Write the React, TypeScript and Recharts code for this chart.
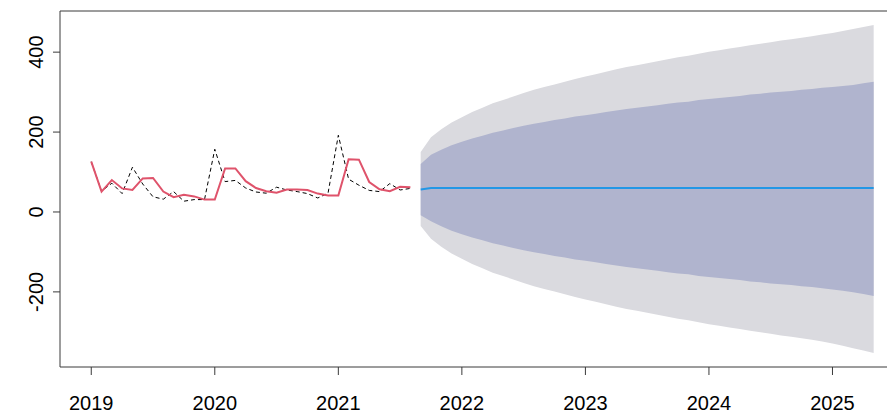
import React from "react";
import {
  ComposedChart,
  Line,
  Area,
  XAxis,
  YAxis,
  ReferenceLine,
} from "recharts";

// monthly history, Jan 2019 .. Aug 2021
const actual = [126, 52, 72, 46, 112, 70, 38, 32, 51, 27, 31, 31, 157, 76, 79, 60, 50, 47, 62, 55, 51, 46, 35, 47, 192, 82, 67, 54, 51, 71, 55, 59];
const fitted = [126, 51, 80, 59, 55, 84, 85, 51, 37, 43, 39, 31, 31, 109, 109, 77, 60, 52, 48, 56, 56, 55, 46, 41, 41, 132, 131, 75, 57, 52, 63, 62];

// forecast, Sep 2021 .. May 2025 (45 months)
const fcMean = [
  56, 60, 60, 60, 60, 60, 60, 60, 60,
  60, 60, 60, 60, 60, 60, 60, 60, 60,
  60, 60, 60, 60, 60, 60, 60, 60, 60,
  60, 60, 60, 60, 60, 60, 60, 60, 60,
  60, 60, 60, 60, 60, 60, 60, 60, 60,
];
const hi80 = [
  120, 143, 156, 167, 176, 184, 191, 198, 204,
  210, 216, 221, 225, 230, 234, 239, 242, 246,
  250, 254, 258, 261, 264, 267, 271, 274, 276,
  280, 283, 285, 288, 290, 294, 296, 299, 301,
  303, 306, 308, 311, 313, 315, 318, 322, 326,
];
const lo80 = [
  -8, -23, -36, -47, -56, -64, -71, -78, -84,
  -90, -96, -101, -105, -110, -114, -119, -122, -126,
  -130, -134, -138, -141, -144, -147, -151, -154, -156,
  -160, -163, -165, -168, -170, -174, -176, -179, -181,
  -183, -186, -188, -191, -194, -197, -201, -205, -210,
];
const hi95 = [
  150, 187, 207, 224, 237, 250, 261, 272, 280,
  289, 298, 306, 313, 319, 326, 333, 339, 345,
  351, 357, 363, 367, 372, 377, 382, 387, 391,
  396, 401, 405, 409, 413, 417, 421, 425, 429,
  432, 436, 440, 444, 448, 453, 458, 463, 468,
];
const lo95 = [
  -35, -67, -87, -104, -117, -130, -141, -152, -160,
  -169, -178, -186, -193, -199, -206, -213, -219, -225,
  -231, -237, -243, -247, -252, -257, -262, -267, -271,
  -276, -281, -285, -289, -293, -297, -301, -305, -309,
  -312, -316, -320, -324, -329, -335, -341, -347, -353,
];

const xTicks = [2019, 2020, 2021, 2022, 2023, 2024, 2025];
const yTicks = [-200, 0, 200, 400];

const START = 2019;
const FC_START = 2021 + 8 / 12;

const data = [
  ...actual.map((a, i) => ({
    t: START + i / 12,
    actual: a,
    fitted: fitted[i],
  })),
  ...fcMean.map((m, i) => ({
    t: FC_START + i / 12,
    mean: m,
    band80: [lo80[i], hi80[i]],
    band95: [lo95[i], hi95[i]],
  })),
];

const font = '"Liberation Sans", Arial, sans-serif';
const frame = "#3a3a3a";

const YTick = (props: any) => {
  const { x, y, payload } = props;
  return (
    <text
      transform={`translate(${x - 2},${y}) rotate(-90)`}
      textAnchor="middle"
      fontSize={20}
      fontFamily={font}
      fill="#000"
    >
      {payload.value}
    </text>
  );
};

export default function App() {
  return (
    <div style={{ width: 887, height: 408, overflow: "hidden" }}>
      <ComposedChart
        width={900}
        height={408}
        data={data}
        margin={{ top: 3, right: 3, bottom: 0, left: 0 }}
      >
        <XAxis
          type="number"
          dataKey="t"
          domain={[2018.747, 2025.587]}
          ticks={xTicks}
          allowDataOverflow
          height={49}
          tickSize={8}
          tickMargin={21}
          stroke={frame}
          tick={{ fill: "#000", fontSize: 20, fontFamily: font }}
        />
        <YAxis
          type="number"
          domain={[-388, 503]}
          ticks={yTicks}
          allowDataOverflow
          width={52}
          tickSize={7}
          tickMargin={8}
          stroke={frame}
          tick={<YTick />}
        />
        <ReferenceLine y={503} stroke={frame} strokeWidth={1} />
        <Area
          dataKey="band95"
          stroke="none"
          fill="#dadadf"
          fillOpacity={1}
          isAnimationActive={false}
          dot={false}
          activeDot={false}
        />
        <Area
          dataKey="band80"
          stroke="none"
          fill="#b0b4ce"
          fillOpacity={1}
          isAnimationActive={false}
          dot={false}
          activeDot={false}
        />
        <Line
          dataKey="mean"
          stroke="#2297e6"
          strokeWidth={2}
          dot={false}
          isAnimationActive={false}
        />
        <Line
          dataKey="actual"
          stroke="#000"
          strokeWidth={1}
          strokeDasharray="4 3"
          dot={false}
          isAnimationActive={false}
        />
        <Line
          dataKey="fitted"
          stroke="#df536b"
          strokeWidth={2}
          dot={false}
          isAnimationActive={false}
        />
      </ComposedChart>
    </div>
  );
}
